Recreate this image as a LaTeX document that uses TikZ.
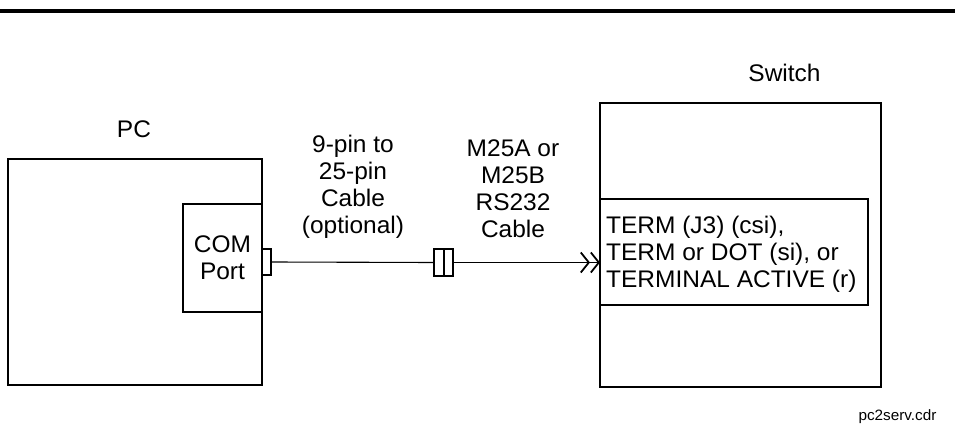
\documentclass[tikz,border=0pt]{standalone}
\usepackage{fontspec}
\setmainfont[FakeStretch=1.02]{Liberation Sans}
\usetikzlibrary{arrows.meta}
\begin{document}
\begin{tikzpicture}[x=1pt,y=-1pt,
  box/.style={draw,line width=1.1pt,outer sep=0pt,inner sep=0pt,anchor=north west},
  lbl/.style={font=\fontsize{24}{27}\selectfont,align=center,inner sep=0pt},
  wire/.style={line width=1.1pt},
  barb/.style={-{Straight Barb[length=8pt,width=20pt,line width=1.8pt] Straight Barb[length=8pt,width=20pt,line width=1.8pt]}}]
\useasboundingbox (0,0) rectangle (955,427);
\coordinate (rl) at (0,11);
\coordinate (rr) at (955,11);
\draw[line width=3.5pt] (rl) -- (rr);
% boxes
\node[box,minimum width=254pt,minimum height=226pt] (pc) at (8,159) {};
\node[box,minimum width=79pt,minimum height=108pt] (com) at (183,204) {};
\node[box,minimum width=9pt,minimum height=26pt] (comconn) at (262,249) {};
\node[box,minimum width=10pt,minimum height=27pt] (adA) at (434,249) {};
\node[box,minimum width=9pt,minimum height=27pt] (adB) at (444,249) {};
\node[box,minimum width=281pt,minimum height=284pt] (switch) at (600,103) {};
\node[box,minimum width=268pt,minimum height=106pt] (term) at (600,199) {};
% texts
\node[lbl] (pclbl) at (134,129) {PC};
\node[lbl] (swlbl) at (784.5,73) {Switch};
\node[lbl] (comlbl) at (com.center) {COM\\Port};
\node[lbl] (nine) at (353,186.5) {9-pin to\\25-pin\\Cable\\(optional)};
\node[lbl] (m25) at (513,189) {M25A or\\M25B\\RS232\\Cable};
\node[lbl,align=left,anchor=west] (termtxt) at (606,254) {TERM (J3) (csi),\\TERM or DOT (si), or\\TERMINAL ACTIVE (r)};
\node[inner sep=0pt,font=\fontsize{15}{18}\selectfont] (file) at (897.5,417) {pc2serv.cdr};
% connectors
\draw[wire] (comconn.east) -- (adA.west);
\draw[wire,barb] (adB.east) -- (adB.east -| term.west);
\end{tikzpicture}
\end{document}
